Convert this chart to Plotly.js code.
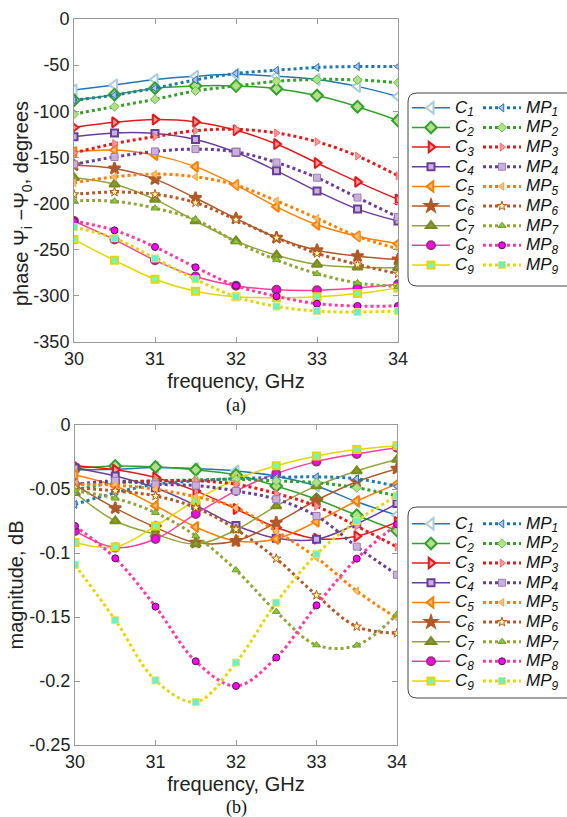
<!DOCTYPE html>
<html><head><meta charset="utf-8">
<script src="https://cdn.plot.ly/plotly-3.0.1.min.js"></script>
<style>html,body{margin:0;padding:0;background:#fff;}#chart{width:567px;height:817px;}</style>
</head><body><div id="chart"></div>
<script>
// ---------- data ----------
const freq = [30, 30.5, 31, 31.5, 32, 32.5, 33, 33.5, 34];

const phaseC1  = [-77, -71.5, -65.5, -62, -60, -62, -65.5, -73, -84];
const phaseMP1 = [-88, -82.5, -75, -66, -59, -55.5, -52.5, -51.5, -51.5];
const phaseC2  = [-88, -82, -75, -72.5, -72.5, -75.5, -83, -95, -110];
const phaseMP2 = [-103, -95, -87, -78, -72.5, -67.5, -65.5, -66, -69];
const phaseC3  = [-117.5, -112, -109, -111.5, -120.5, -135.5, -156, -176.5, -195.5];
const phaseMP3 = [-145, -135, -127.5, -121, -119.5, -123.5, -133, -148.5, -170];
const phaseC4  = [-127.5, -123.5, -124, -130.5, -144.5, -164.5, -186.5, -206, -219];
const phaseMP4 = [-157.5, -149.5, -143.5, -141, -144, -155.5, -172, -193.5, -214.5];
const phaseC5  = [-144, -142, -147.5, -160, -180, -203.5, -223, -235.5, -243.5];
const phaseMP5 = [-177.5, -171, -168, -171, -180, -197, -216, -235.5, -249];
const phaseC6  = [-158.5, -162, -173.5, -194, -216, -237, -250.5, -257, -260.5];
const phaseMP6 = [-190, -187.5, -190, -199, -217.5, -237, -254, -266, -276];
const phaseC7  = [-172, -179, -195.5, -219, -240.5, -256, -266, -269, -269.5];
const phaseMP7 = [-197, -197.5, -205, -217.5, -241.5, -261, -276, -286, -290];
const phaseC8  = [-219, -239, -261.5, -279, -289, -293.5, -294, -291.5, -287.5];
const phaseMP8 = [-219, -229, -247, -269, -289, -300.5, -308.5, -311, -311];
const phaseC9  = [-239, -261.5, -282, -295, -301, -302, -301, -297.5, -291.5];
const phaseMP9 = [-225.5, -237.5, -259.5, -282, -301, -311.5, -316.5, -317.5, -316.5];

const magC1  = [-0.035, -0.0346, -0.0333, -0.0341, -0.0359, -0.040, -0.0476, -0.060, -0.0705];
const magMP1 = [-0.062, -0.053, -0.0463, -0.0437, -0.0419, -0.041, -0.0405, -0.042, -0.048];
const magC2  = [-0.034, -0.032, -0.0328, -0.035, -0.039, -0.0476, -0.058, -0.0705, -0.0825];
const magMP2 = [-0.051, -0.045, -0.0437, -0.0429, -0.0424, -0.0437, -0.045, -0.049, -0.0554];
const magC3  = [-0.0318, -0.035, -0.041, -0.0515, -0.0656, -0.080, -0.0888, -0.0869, -0.0758];
const magMP3 = [-0.0463, -0.045, -0.0437, -0.0435, -0.0463, -0.0535, -0.0635, -0.079, -0.0953];
const magC4  = [-0.0335, -0.0398, -0.049, -0.0628, -0.0785, -0.0884, -0.0893, -0.0772, -0.0614];
const magMP4 = [-0.0465, -0.0437, -0.0463, -0.0473, -0.0515, -0.058, -0.0711, -0.095, -0.117];
const magC5  = [-0.0391, -0.0477, -0.063, -0.0797, -0.0906, -0.089, -0.0755, -0.0594, -0.046];
const magMP5 = [-0.0463, -0.047, -0.0502, -0.056, -0.0646, -0.083, -0.1036, -0.1297, -0.151];
const magC6  = [-0.047, -0.065, -0.080, -0.0919, -0.0906, -0.0763, -0.0588, -0.0443, -0.0341];
const magMP6 = [-0.049, -0.0515, -0.0554, -0.0646, -0.0815, -0.1044, -0.133, -0.1575, -0.1627];
const magC7  = [-0.053, -0.075, -0.0854, -0.093, -0.082, -0.0633, -0.0476, -0.0359, -0.027];
const magMP7 = [-0.0515, -0.0573, -0.0685, -0.0867, -0.1133, -0.1458, -0.1719, -0.1721, -0.1479];
const magC8  = [-0.0828, -0.0958, -0.0891, -0.0695, -0.0515, -0.038, -0.0286, -0.0226, -0.0177];
const magMP8 = [-0.0789, -0.1041, -0.1419, -0.1846, -0.2039, -0.1817, -0.1409, -0.1044, -0.0776];
const magC9  = [-0.0917, -0.0953, -0.0789, -0.0588, -0.0424, -0.0318, -0.0242, -0.0192, -0.0162];
const magMP9 = [-0.1094, -0.1523, -0.1995, -0.2164, -0.1856, -0.1388, -0.101, -0.075, -0.0554];

const seriesIndex = ['1','2','3','4','5','6','7','8','9'];
const xTickVals = [30, 31, 32, 33, 34];
const xTickText = ['30', '31', '32', '33', '34'];
const phaseTickVals = [0, -50, -100, -150, -200, -250, -300, -350];
const phaseTickText = ['0', '-50', '-100', '-150', '-200', '-250', '-300', '-350'];
const magTickVals = [0, -0.05, -0.1, -0.15, -0.2, -0.25];
const magTickText = ['0', '-0.05', '-0.1', '-0.15', '-0.2', '-0.25'];

const phaseC  = [phaseC1, phaseC2, phaseC3, phaseC4, phaseC5, phaseC6, phaseC7, phaseC8, phaseC9];
const phaseMP = [phaseMP1, phaseMP2, phaseMP3, phaseMP4, phaseMP5, phaseMP6, phaseMP7, phaseMP8, phaseMP9];
const magC  = [magC1, magC2, magC3, magC4, magC5, magC6, magC7, magC8, magC9];
const magMP = [magMP1, magMP2, magMP3, magMP4, magMP5, magMP6, magMP7, magMP8, magMP9];

// ---------- styles ----------
const sty = [
  {line:'#1f78b4', cs:'triangle-left', cf:'#ffffff', ce:'#a6cee3', ms:'triangle-left', mf:'#b9bdf0', me:'#1f78b4', csz:10},
  {line:'#33a02c', cs:'diamond', cf:'#b2df8a', ce:'#33a02c', ms:'diamond', mf:'#b2df8a', me:'#6cbf4f', csz:9},
  {line:'#e31a1c', cs:'triangle-right', cf:'#fb9a99', ce:'#e31a1c', ms:'triangle-right', mf:'#fb9a99', me:'#f46d6d', csz:9},
  {line:'#6a3d9a', cs:'square', cf:'#cab2d6', ce:'#6a3d9a', ms:'square', mf:'#cab2d6', me:'#9d7cc0', csz:7},
  {line:'#ff7f00', cs:'triangle-left', cf:'#fdbf6f', ce:'#ff7f00', ms:'triangle-left', mf:'#fdbf6f', me:'#fca94a', csz:9},
  {line:'#b15928', cs:'star', cf:'#b15928', ce:'#b15928', ms:'star', mf:'#ffff99', me:'#b15928', csz:9},
  {line:'#95a23a', cs:'triangle-up', cf:'#8c9c2c', ce:'#7a8a20', ms:'triangle-up', mf:'#8cc63e', me:'#6e9e2a', csz:9},
  {line:'#ff3ca0', cs:'circle', cf:'#ff00ff', ce:'#a0307a', ms:'circle', mf:'#ff00ff', me:'#4a1a3e', csz:8},
  {line:'#e5d600', cs:'square', cf:'#66ffcc', ce:'#e5d600', ms:'square', mf:'#66f0cc', me:'#eee060', csz:7}
];

const W = 567, H = 817;
const FONT = 'Liberation Sans, Arial, sans-serif';
const label = (pre, k) => "<span style='font-size:17px'><i>" + pre + "<sub>" + k + "</sub></i></span>";

const traces = [];
function addTraces(ys, isMP, xa, ya, leg) {
  ys.forEach((y, i) => {
    const s = sty[i];
    traces.push({
      type: 'scatter', mode: 'lines+markers', x: freq, y: y, xaxis: xa, yaxis: ya,
      name: label(isMP ? 'MP' : 'C', seriesIndex[i]), legend: leg,
      line: isMP ? {color: s.line, width: 3, dash: 'dot', shape: 'spline', smoothing: 1}
                 : {color: s.line, width: 1.5, shape: 'spline', smoothing: 1},
      marker: isMP ? {symbol: s.ms, size: 7, color: s.mf, line: {color: s.me, width: 1}}
                   : {symbol: s.cs, size: s.csz, color: s.cf, line: {color: s.ce, width: 2}},
      hoverinfo: 'x+y'
    });
  });
}
addTraces(phaseC, false, 'x', 'y', 'legend');
addTraces(phaseMP, true, 'x', 'y', 'legend2');
addTraces(magC, false, 'x2', 'y2', 'legend3');
addTraces(magMP, true, 'x2', 'y2', 'legend4');

const fx = p => p / W;
const fy = p => 1 - p / H;
const titleFont = {family: FONT, size: 20, color: '#222'};

function axisBase() {
  return {
    showline: true, linecolor: '#9a9a9a', linewidth: 1, mirror: 'ticks',
    ticks: 'inside', ticklen: 5, tickcolor: '#9a9a9a', tickwidth: 1,
    showgrid: false, zeroline: false,
    tickfont: {family: FONT, size: 18, color: '#222'}
  };
}
const xTop = Object.assign(axisBase(), {
  domain: [fx(74), fx(398)], anchor: 'y', range: [30, 34],
  tickvals: xTickVals, ticktext: xTickText,
  title: {text: 'frequency, GHz', font: titleFont, standoff: 6}
});
const yTop = Object.assign(axisBase(), {
  domain: [fy(342), fy(19)], anchor: 'x', range: [-350, 0],
  tickvals: phaseTickVals, ticktext: phaseTickText
});
const xBot = Object.assign(axisBase(), {
  domain: [fx(75), fx(397)], anchor: 'y2', range: [30, 34],
  tickvals: xTickVals, ticktext: xTickText,
  title: {text: 'frequency, GHz', font: titleFont, standoff: 6}
});
const yBot = Object.assign(axisBase(), {
  domain: [fy(745), fy(425)], anchor: 'x2', range: [-0.25, 0],
  tickvals: magTickVals, ticktext: magTickText,
  title: {text: 'magnitude, dB', font: titleFont, standoff: 0}
});

function legendCfg(xpx, ypx) {
  return {x: fx(xpx), y: fy(ypx), xanchor: 'left', yanchor: 'top', orientation: 'v',
          bgcolor: 'rgba(0,0,0,0)', borderwidth: 0, itemwidth: 38, tracegroupgap: 0,
          font: {family: FONT, size: 12.8, color: '#111'}};
}

function roundRect(x0, y0, x1, y1, r) {
  const P = (x, y) => fx(x) + ',' + fy(y);
  return 'M' + P(x0 + r, y0) + ' L' + P(x1 - r, y0) + ' Q' + P(x1, y0) + ' ' + P(x1, y0 + r) +
         ' L' + P(x1, y1 - r) + ' Q' + P(x1, y1) + ' ' + P(x1 - r, y1) +
         ' L' + P(x0 + r, y1) + ' Q' + P(x0, y1) + ' ' + P(x0, y1 - r) +
         ' L' + P(x0, y0 + r) + ' Q' + P(x0, y0) + ' ' + P(x0 + r, y0) + ' Z';
}

const layout = {
  width: W, height: H, margin: {l: 0, r: 0, t: 0, b: 0},
  paper_bgcolor: '#fff', plot_bgcolor: '#fff', showlegend: true,
  xaxis: xTop, yaxis: yTop, xaxis2: xBot, yaxis2: yBot,
  legend: legendCfg(407, 93),
  legend2: legendCfg(478, 93),
  legend3: legendCfg(407, 509),
  legend4: legendCfg(478, 509),
  shapes: [
    {type: 'path', xref: 'paper', yref: 'paper', path: roundRect(408, 93, 580, 286, 9),
     line: {color: '#444', width: 1}, fillcolor: '#fff', layer: 'above'},
    {type: 'path', xref: 'paper', yref: 'paper', path: roundRect(408, 507, 580, 698, 9),
     line: {color: '#444', width: 1}, fillcolor: '#fff', layer: 'above'}
  ],
  annotations: [
    {text: 'phase Ψ<sub>i</sub> −Ψ<sub>0</sub>, degrees', textangle: -90, xref: 'paper', yref: 'paper',
     x: fx(22), y: fy(204), xanchor: 'center', yanchor: 'middle', showarrow: false, font: titleFont},
    {text: '(a)', xref: 'paper', yref: 'paper', x: fx(236), y: fy(405), xanchor: 'center', yanchor: 'middle',
     showarrow: false, font: {family: 'Liberation Serif, Times New Roman, serif', size: 18, color: '#111'}},
    {text: '(b)', xref: 'paper', yref: 'paper', x: fx(236), y: fy(807), xanchor: 'center', yanchor: 'middle',
     showarrow: false, font: {family: 'Liberation Serif, Times New Roman, serif', size: 18, color: '#111'}}
  ]
};

Plotly.newPlot('chart', traces, layout, {staticPlot: true, displayModeBar: false});
</script>
</body></html>
